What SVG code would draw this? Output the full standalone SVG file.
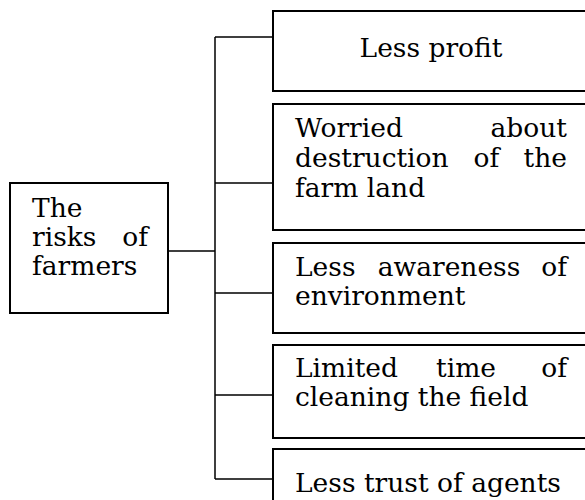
<svg xmlns="http://www.w3.org/2000/svg" width="585" height="500" viewBox="0 0 585 500">
<style>
.box{fill:#fff;stroke:#000;stroke-width:2}
.con{fill:none;stroke:#000;stroke-width:1.5}
text{font-family:"DejaVu Serif","Liberation Serif",serif;font-size:26.5px;fill:#000}
.m{text-anchor:middle}
.e{text-anchor:end}
</style>
<rect width="585" height="500" fill="#fff"/>
<g id="connectors">
<path class="con" d="M168 251H215M215 37V479M215 37H273M215 183H273M215 293H273M215 395H273M215 479H273"/>
</g>
<g id="root">
<rect class="box" x="10" y="183" width="158" height="130"/>
<text x="32" y="217">The</text>
<text x="32" y="246">risks</text>
<text class="e" x="148" y="246">of</text>
<text x="32" y="275">farmers</text>
</g>
<g id="n1">
<rect class="box" x="273" y="11" width="330" height="80"/>
<text class="m" x="431" y="57">Less profit</text>
</g>
<g id="n2">
<rect class="box" x="273" y="104" width="330" height="126"/>
<text x="295" y="137">Worried</text>
<text class="e" x="567" y="137">about</text>
<text x="295" y="167">destruction</text>
<text class="m" x="486.5" y="167">of</text>
<text class="e" x="567" y="167">the</text>
<text x="295" y="197">farm land</text>
</g>
<g id="n3">
<rect class="box" x="273" y="243" width="330" height="90"/>
<text x="295" y="276">Less</text>
<text class="m" x="449" y="276">awareness</text>
<text class="e" x="567" y="276">of</text>
<text x="295" y="305">environment</text>
</g>
<g id="n4">
<rect class="box" x="273" y="345" width="330" height="93"/>
<text x="295" y="377">Limited</text>
<text class="m" x="466" y="377">time</text>
<text class="e" x="567" y="377">of</text>
<text x="295" y="406">cleaning the field</text>
</g>
<g id="n5">
<rect class="box" x="273" y="449" width="330" height="80"/>
<text x="295" y="492">Less trust of agents</text>
</g>
</svg>
